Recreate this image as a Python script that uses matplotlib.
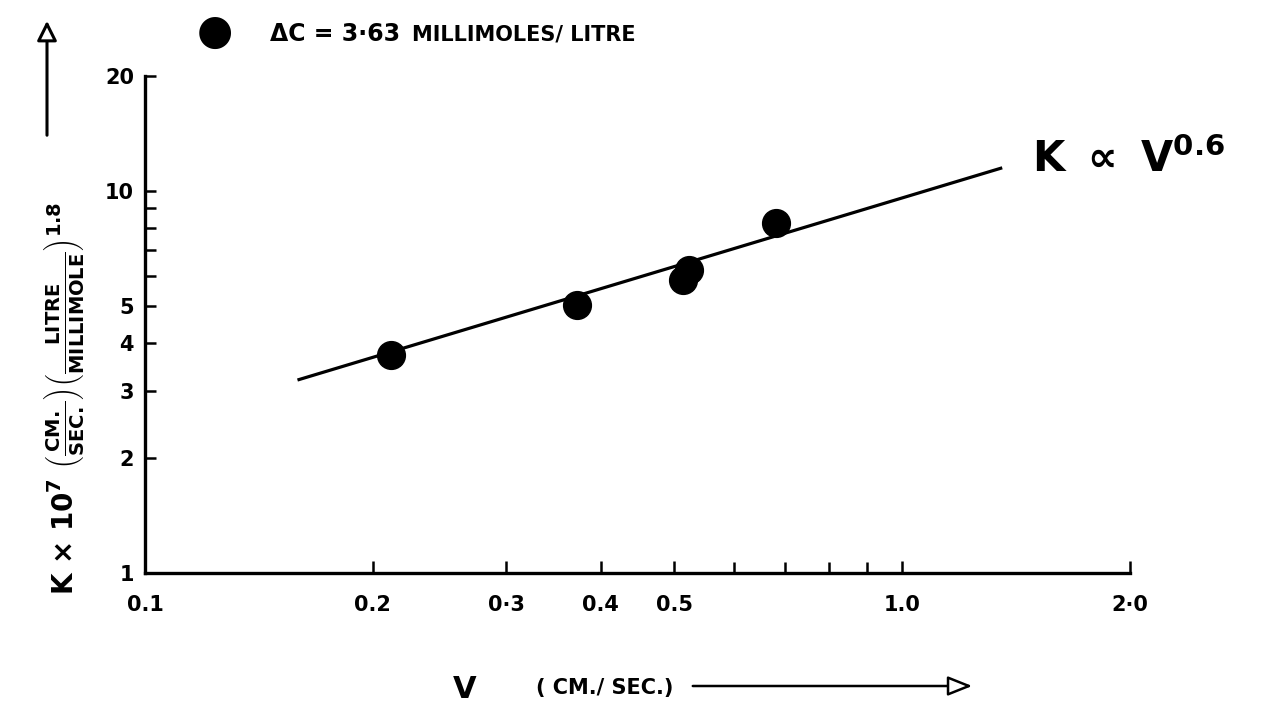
import numpy as np
import matplotlib
matplotlib.use("Agg")
import matplotlib.pyplot as plt
from matplotlib.patches import FancyArrowPatch
from matplotlib.ticker import FixedLocator, FixedFormatter, NullFormatter

plt.rcParams.update({
    "font.family": "DejaVu Sans",
    "font.weight": "bold",
    "mathtext.fontset": "custom",
    "mathtext.rm": "DejaVu Sans:bold",
    "mathtext.it": "DejaVu Sans:bold",
    "mathtext.bf": "DejaVu Sans:bold",
})

# measured mass-transfer coefficient vs velocity, dC = 3.63 mmol/l
V = [0.211, 0.372, 0.514, 0.523, 0.682]
K = [3.72, 5.03, 5.85, 6.21, 8.25]

# fitted line  K ~ V^0.6  (end points)
LINE_V = [0.159, 1.356]
LINE_K = [3.2, 11.5]

X_MAJOR = [0.1, 0.2, 0.3, 0.4, 0.5, 1.0, 2.0]
X_LABELS = ["0.1", "0.2", "0·3", "0.4", "0.5", "1.0", "2·0"]
X_MINOR = [0.6, 0.7, 0.8, 0.9]
Y_MAJOR = [1, 2, 3, 4, 5, 10, 20]
Y_LABELS = ["1", "2", "3", "4", "5", "10", "20"]
Y_MINOR = [6, 7, 8, 9]

W, H = 1265, 721
fig = plt.figure(figsize=(W / 100, H / 100), dpi=100)
ax = fig.add_axes([145 / W, 1 - 573 / H, 985 / W, 497 / H])

ax.plot(LINE_V, LINE_K, color="black", lw=2.3, solid_capstyle="butt")
ax.plot(V, K, "o", color="black", ms=20, zorder=3)

ax.set_xscale("log")
ax.set_yscale("log")
ax.set_xlim(0.1, 2.0)
ax.set_ylim(1, 20)

for s in ["top", "right"]:
    ax.spines[s].set_visible(False)
for s in ["left", "bottom"]:
    ax.spines[s].set_linewidth(2.4)

ax.xaxis.set_major_locator(FixedLocator(X_MAJOR))
ax.xaxis.set_major_formatter(FixedFormatter(X_LABELS))
ax.xaxis.set_minor_locator(FixedLocator(X_MINOR))
ax.xaxis.set_minor_formatter(NullFormatter())
ax.yaxis.set_major_locator(FixedLocator(Y_MAJOR))
ax.yaxis.set_major_formatter(FixedFormatter(Y_LABELS))
ax.yaxis.set_minor_locator(FixedLocator(Y_MINOR))
ax.yaxis.set_minor_formatter(NullFormatter())

ax.tick_params(axis="both", which="both", direction="in", width=1.8,
               labelsize=15)
ax.tick_params(axis="x", which="major", length=9, pad=16)
ax.tick_params(axis="x", which="minor", length=8)
ax.tick_params(axis="y", which="major", length=8, pad=8)
ax.tick_params(axis="y", which="minor", length=8)

# key for the data points
fig.text(215 / W, 1 - 32 / H, "\u25CF", fontsize=30, ha="center", va="center")
fig.text(270 / W, 1 - 34 / H, "\u0394C = 3·63", fontsize=17, ha="left", va="center")
fig.text(412 / W, 1 - 35 / H, "MILLIMOLES/ LITRE", fontsize=15, ha="left", va="center")

# power-law annotation
fig.text(1032 / W, 1 - 160 / H, r"K $\propto$ V$^{0.6}$", fontsize=30,
         ha="left", va="center")

# axis titles with arrows
fig.text(64 / W, 1 - 398 / H,
         r"K $\times$ 10$^{7}$ $\left(\frac{CM.}{SEC.}\right)\left(\frac{LITRE}{MILLIMOLE}\right)^{1.8}$",
         fontsize=20, rotation=90, ha="center", va="center")
fig.add_artist(FancyArrowPatch((47 / W, 1 - 138 / H), (47 / W, 1 - 18 / H),
                               transform=fig.transFigure,
                               arrowstyle="-|>,head_length=8,head_width=4",
                               mutation_scale=1.5, lw=2.2,
                               edgecolor="black", facecolor="white"))

fig.text(465 / W, 1 - 690 / H, "V", fontsize=22, ha="center", va="center")
fig.text(605 / W, 1 - 688 / H, "( CM./ SEC.)", fontsize=15, ha="center", va="center")
fig.add_artist(FancyArrowPatch((690 / W, 1 - 686 / H), (975 / W, 1 - 686 / H),
                               transform=fig.transFigure,
                               arrowstyle="-|>,head_length=10,head_width=4",
                               mutation_scale=1.5, lw=1.8,
                               edgecolor="black", facecolor="white"))

fig.savefig("out.png", dpi=100)
